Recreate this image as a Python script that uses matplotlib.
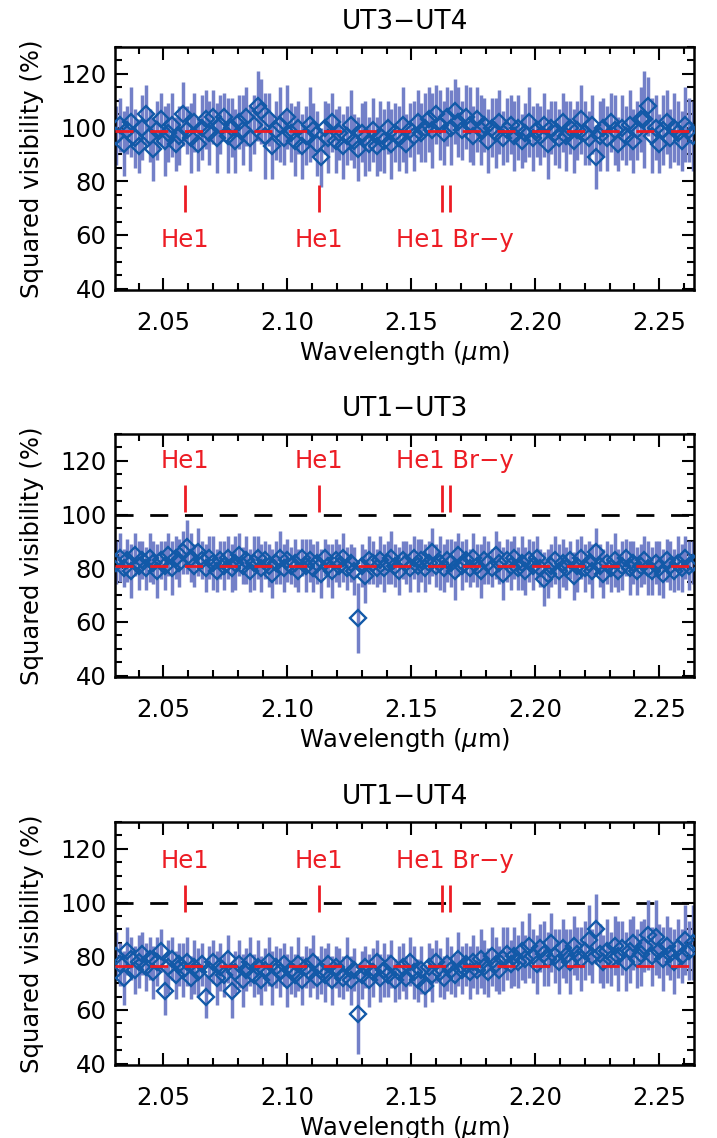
import numpy as np
import matplotlib
matplotlib.use("Agg")
import matplotlib.pyplot as plt
from matplotlib.ticker import MultipleLocator, FormatStrFormatter

plt.rcParams["font.family"] = ["DejaVu Sans"]
plt.rcParams["mathtext.fontset"] = "dejavusans"

# ── Spectral channels (regular grid, micron) ──────────────────
wl_start, wl_step, n_chan = 2.031, 0.0015, 156
wavelength = wl_start + wl_step * np.arange(n_chan)

# ── Squared visibilities (%) ──────────────────────────────────
vis_ut34 = [
    97, 101, 94, 99, 102, 96, 93, 100, 105, 97, 92, 99,
    103, 95, 98, 101, 94, 97, 105, 99, 96, 102, 94, 100,
    103, 98, 104, 96, 101, 104, 97, 100, 95, 102, 99, 104,
    96, 101, 108, 106, 97, 103, 93, 99, 101, 96, 104, 98,
    95, 100, 93, 97, 101, 99, 94, 89, 100, 96, 102, 95,
    98, 93, 97, 101, 95, 92, 98, 96, 94, 99, 93, 97,
    95, 100, 94, 98, 96, 101, 94, 99, 97, 102, 98, 100,
    103, 99, 105, 101, 98, 104, 100, 106, 102, 99, 104, 101,
    97, 103, 99, 101, 95, 100, 98, 102, 96, 99, 101, 97,
    100, 95, 98, 102, 96, 99, 97, 101, 94, 100, 98, 96,
    102, 97, 100, 95, 99, 103, 98, 96, 101, 89, 97, 100,
    96, 102, 99, 94, 100, 97, 101, 95, 99, 103, 103, 108,
    97, 100, 94, 99, 102, 96, 100, 98, 95, 101, 99, 97,
]
err_ut34 = [
    11, 10, 12, 9, 13, 11, 10, 12, 11, 10, 12, 11,
    10, 13, 11, 12, 10, 11, 12, 9, 13, 11, 10, 12,
    11, 12, 10, 13, 11, 9, 14, 11, 12, 10, 13, 11,
    12, 11, 13, 12, 16, 10, 12, 11, 14, 10, 12, 11,
    13, 10, 12, 11, 14, 10, 12, 11, 10, 13, 11, 12,
    10, 12, 11, 13, 10, 12, 11, 14, 10, 12, 11, 13,
    12, 10, 13, 11, 12, 14, 11, 10, 13, 12, 11, 13,
    12, 14, 11, 13, 12, 11, 14, 12, 13, 11, 12, 14,
    11, 12, 13, 10, 12, 11, 13, 12, 10, 12, 11, 13,
    12, 10, 11, 13, 12, 10, 11, 12, 13, 10, 12, 11,
    11, 13, 10, 12, 11, 13, 12, 10, 11, 12, 13, 11,
    12, 11, 13, 10, 12, 11, 13, 12, 11, 12, 18, 11,
    14, 12, 11, 13, 12, 11, 13, 12, 11, 14, 12, 13,
]

vis_ut13 = [
    82, 84, 80, 83, 79, 85, 81, 83, 80, 84, 82, 79,
    83, 81, 85, 80, 84, 82, 86, 88, 84, 81, 86, 83,
    80, 84, 82, 79, 83, 81, 84, 80, 82, 85, 81, 83,
    79, 82, 84, 80, 83, 81, 78, 82, 84, 80, 83, 81,
    82, 79, 84, 81, 83, 80, 82, 78, 84, 81, 79, 83,
    81, 84, 80, 82, 79, 61.5, 81, 77, 83, 82, 80, 83,
    80, 82, 84, 81, 79, 83, 82, 80, 84, 81, 83, 80,
    82, 86, 81, 82, 80, 83, 82, 79, 85, 81, 83, 80,
    84, 81, 79, 83, 82, 80, 85, 82, 78, 83, 81, 84,
    80, 82, 79, 83, 81, 84, 80, 76, 78, 81, 83, 79,
    82, 80, 83, 77, 81, 84, 80, 82, 79, 86, 81, 78,
    82, 80, 83, 79, 81, 84, 80, 82, 79, 81, 83, 80,
    79, 82, 80, 78, 83, 81, 79, 82, 80, 84, 81, 82,
]
err_ut13 = [
    8, 9, 7, 8, 10, 8, 9, 7, 8, 9, 8, 10,
    7, 9, 8, 10, 8, 9, 8, 10, 9, 8, 9, 7,
    9, 8, 10, 8, 7, 9, 8, 9, 10, 8, 7, 9,
    8, 10, 8, 9, 7, 8, 9, 8, 10, 9, 8, 7,
    9, 8, 7, 10, 8, 9, 8, 9, 7, 8, 10, 8,
    8, 9, 8, 7, 9, 13, 8, 10, 9, 8, 7, 9,
    9, 8, 10, 8, 9, 7, 8, 9, 8, 10, 8, 9,
    8, 9, 8, 10, 9, 8, 9, 11, 8, 9, 8, 7,
    9, 8, 10, 9, 8, 7, 9, 8, 10, 8, 9, 8,
    8, 10, 9, 8, 9, 8, 7, 10, 9, 8, 9, 10,
    9, 8, 7, 9, 10, 8, 9, 8, 10, 9, 8, 9,
    8, 9, 10, 8, 9, 7, 10, 8, 9, 8, 9, 10,
    9, 8, 10, 9, 8, 9, 8, 10, 9, 8, 9, 8,
]

vis_ut14 = [
    80, 77, 72, 82, 79, 75, 78, 81, 76, 79, 74, 78,
    82, 67, 76, 79, 73, 77, 75, 78, 72, 76, 74, 77,
    65, 75, 78, 72, 76, 73, 79, 67, 74, 77, 71, 75,
    78, 73, 76, 71, 75, 78, 72, 76, 74, 77, 71, 75,
    73, 77, 71, 76, 74, 78, 72, 75, 73, 77, 71, 76,
    74, 72, 77, 71, 75, 58.5, 73, 76, 71, 74, 78, 72,
    75, 73, 77, 71, 74, 76, 72, 78, 74, 71, 75, 69,
    76, 73, 78, 74, 72, 77, 75, 73, 79, 75, 77, 74,
    78, 75, 79, 76, 74, 80, 77, 75, 79, 81, 77, 80,
    78, 82, 79, 84, 80, 77, 83, 81, 79, 85, 80, 78,
    83, 80, 78, 84, 81, 79, 82, 86, 80, 90, 81, 78,
    82, 79, 84, 80, 83, 78, 82, 85, 79, 81, 84, 88,
    80, 87, 82, 79, 84, 81, 78, 83, 80, 86, 82, 85,
]
err_ut14 = [
    9, 8, 10, 9, 8, 9, 10, 8, 9, 8, 10, 9,
    8, 9, 10, 8, 9, 8, 10, 9, 8, 10, 9, 8,
    8, 9, 8, 10, 9, 8, 9, 10, 8, 9, 10, 8,
    9, 8, 10, 9, 8, 9, 10, 8, 9, 8, 10, 9,
    8, 10, 9, 8, 9, 10, 8, 9, 10, 8, 9, 8,
    9, 8, 10, 9, 8, 15, 9, 8, 10, 9, 8, 9,
    10, 8, 9, 8, 10, 9, 8, 9, 10, 8, 9, 8,
    9, 10, 8, 9, 8, 10, 9, 8, 10, 9, 8, 10,
    10, 9, 11, 10, 9, 11, 10, 9, 12, 10, 9, 11,
    10, 11, 9, 12, 10, 11, 9, 12, 10, 11, 10, 12,
    11, 10, 12, 11, 10, 12, 11, 13, 10, 13, 11, 10,
    12, 10, 11, 13, 10, 11, 12, 10, 11, 12, 10, 13,
    11, 14, 10, 12, 11, 10, 12, 11, 10, 13, 11, 14,
]

baselines   = ["UT3\u2212UT4", "UT1\u2212UT3", "UT1\u2212UT4"]
vis_all     = [vis_ut34, vis_ut13, vis_ut14]
err_all     = [err_ut34, err_ut13, err_ut14]
fit_level   = [98.6, 81.0, 76.2]      # red dashed model level
show_unity  = [False, True, True]     # black dashed line at V^2 = 100 %

# ── Spectral line markers ─────────────────────────────────────
line_pos    = [2.0586, 2.1126, 2.1622, 2.1658]
label_text  = ["He1", "He1", "He1 Br\u2212y"]
label_pos   = [2.0586, 2.1126, 2.1675]
mark_lo     = [68.5, 101.0, 96.5]
mark_hi     = [78.5, 111.0, 106.5]
label_y     = [58.0, 120.0, 115.5]

# ── Style ─────────────────────────────────────────────────────
RED   = "#ed1c24"
EBAR  = "#7380c8"
DIAM  = "#1259a8"
FS    = 17.5

W, H = 717, 1138
fig = plt.figure(figsize=(W / 100, H / 100), dpi=100)

ax_left, ax_right = 115, 694
ax_tops = [47, 434, 822]
ax_h = 243

for k in range(3):
    top = ax_tops[k]
    ax = fig.add_axes([ax_left / W, 1 - (top + ax_h) / H,
                       (ax_right - ax_left) / W, ax_h / H])

    if show_unity[k]:
        ax.axhline(100, color="black", lw=2, dashes=(6.5, 6), zorder=1)

    ax.errorbar(wavelength, vis_all[k], yerr=err_all[k], fmt="none",
                ecolor=EBAR, elinewidth=2.5, capsize=0, zorder=2)
    ax.plot(wavelength, vis_all[k], "D", mfc="none", mec=DIAM,
            ms=8, mew=1.7, zorder=3)
    ax.axhline(fit_level[k], color=RED, lw=2, dashes=(6.5, 6), zorder=4)

    ax.vlines(line_pos, mark_lo[k], mark_hi[k], color=RED, lw=2, zorder=5)
    for txt, xpos in zip(label_text, label_pos):
        ax.text(xpos, label_y[k], txt, color=RED, fontsize=FS,
                ha="center", va="center", zorder=5)

    ax.set_xlim(2.0305, 2.264)
    ax.set_ylim(39.5, 130)
    ax.xaxis.set_major_locator(MultipleLocator(0.05))
    ax.xaxis.set_minor_locator(MultipleLocator(0.01))
    ax.xaxis.set_major_formatter(FormatStrFormatter("%.2f"))
    ax.yaxis.set_major_locator(MultipleLocator(20))
    ax.yaxis.set_minor_locator(MultipleLocator(5))

    ax.tick_params(which="both", direction="in", top=True, right=True,
                   width=1.5, labelsize=FS)
    ax.tick_params(which="major", length=9)
    ax.tick_params(which="minor", length=5)
    ax.tick_params(axis="x", pad=15)
    ax.tick_params(axis="y", pad=6)
    for sp in ax.spines.values():
        sp.set_linewidth(1.8)

    ax.set_title(baselines[k], fontsize=19, pad=13)
    ax.set_xlabel("Wavelength ($\\mu$m)", fontsize=FS, labelpad=3)
    ax.set_ylabel("Squared visibility (%)", fontsize=FS, labelpad=12)

plt.savefig("out.png", dpi=100)
